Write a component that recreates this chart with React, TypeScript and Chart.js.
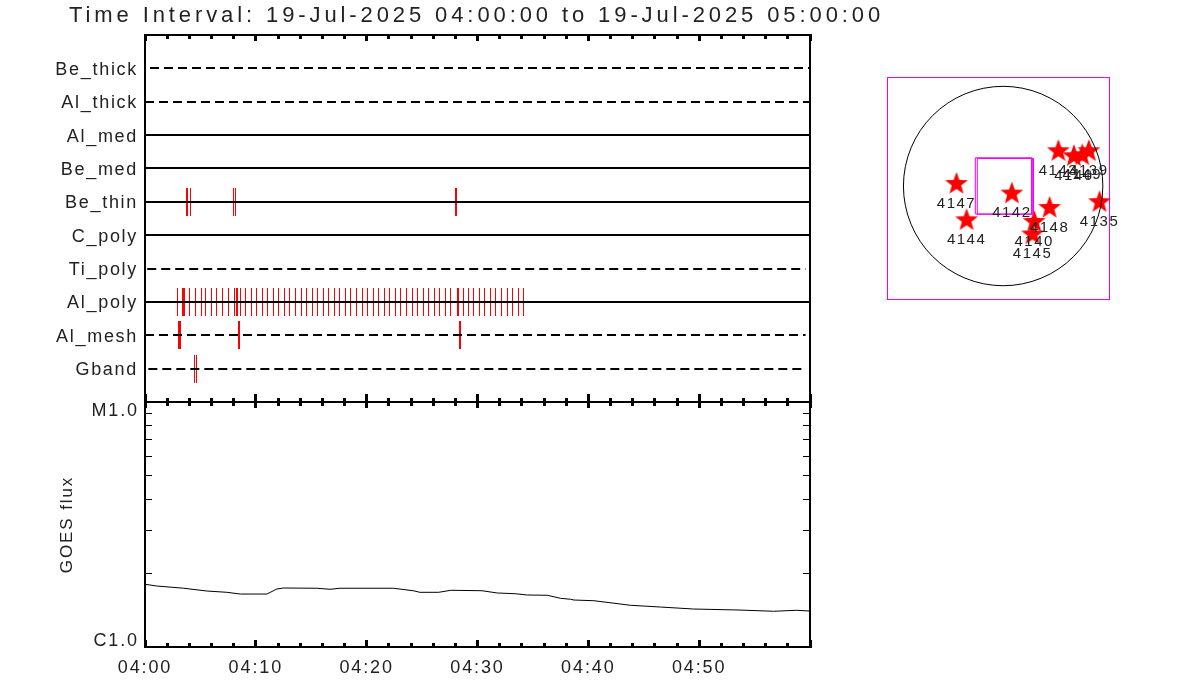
import React, { useEffect, useRef } from "react";
import { Chart, registerables } from "chart.js";

Chart.register(...registerables);

const FONT = '"Liberation Sans", sans-serif';
const INK = "#222";
const RED = "#ff0000";
const MAGENTA = "#f000f0";

const titleText = "Time Interval: 19-Jul-2025 04:00:00 to 19-Jul-2025 05:00:00";

// bottom to top
const channels = ["Gband", "Al_mesh", "Al_poly", "Ti_poly", "C_poly", "Be_thin", "Be_med", "Al_med", "Al_thick", "Be_thick"];
const dashedChannels = ["Gband", "Al_mesh", "Ti_poly", "Al_thick", "Be_thick"];
const dashStart = [0.3, 0, 0.2, 0, 0.45];
const dashEnd = [59.6, 59.6, 59.6, 60, 60];

// event times, minutes after 04:00
const beThinEvents = [3.74, 3.83, 4.11, 7.98, 8.17, 28.02, 28.11];
const alPolyEvents = [
  2.93, 3.38, 3.47, 3.56, 4.02, 4.56, 5.1, 5.46, 6.0, 6.45, 6.99, 7.53, 8.08, 8.26, 8.35, 8.62, 9.07, 9.61, 10.06,
  10.6, 11.05, 11.59, 12.05, 12.59, 13.04, 13.58, 14.12, 14.57, 15.11, 15.56, 16.11, 16.56, 17.1, 17.55, 18.09,
  18.54, 19.08, 19.62, 20.08, 20.62, 21.07, 21.61, 22.06, 22.6, 23.05, 23.59, 24.14, 24.59, 25.13, 25.58, 26.12,
  26.57, 27.11, 27.56, 28.2, 28.29, 28.74, 29.19, 29.64, 30.18, 30.63, 31.17, 31.62, 32.17, 32.71, 33.16, 33.7, 34.15,
];
const alMeshEvents = [3.02, 3.11, 3.2, 8.44, 8.53, 28.38, 28.47];
const gbandEvents = [4.47, 4.65];

// GOES flux
const goesMinutes = [
  0, 1.05, 3.5, 5.6, 7.4, 8.6, 11, 11.9, 12.5, 15.5, 16.7, 17.6, 22.4, 24.2, 24.8, 26.5, 27.6, 30.4, 31.8, 33.4, 34.5,
  36.3, 37.5, 38.4, 38.7, 40.5, 43.8, 46.5, 49.5, 53.5, 56.7, 58.8, 60,
];
const goesFlux = [
  1.803e-6, 1.774e-6, 1.737e-6, 1.692e-6, 1.672e-6, 1.645e-6, 1.645e-6, 1.725e-6, 1.741e-6, 1.737e-6, 1.72e-6,
  1.737e-6, 1.737e-6, 1.697e-6, 1.672e-6, 1.672e-6, 1.704e-6, 1.697e-6, 1.661e-6, 1.65e-6, 1.63e-6, 1.626e-6,
  1.58e-6, 1.566e-6, 1.555e-6, 1.545e-6, 1.48e-6, 1.456e-6, 1.429e-6, 1.416e-6, 1.399e-6, 1.412e-6, 1.402e-6,
];
const fluxTicks = [1e-6, 2e-6, 3e-6, 4e-6, 5e-6, 6e-6, 7e-6, 8e-6, 9e-6, 1e-5];
const timeLabels = ["04:00", "04:10", "04:20", "04:30", "04:40", "04:50", ""];

// Solar map, arcsec from disc centre
const regionNames = ["4147", "4142", "4144", "4148", "4140", "4145", "4135", "4143", "4146", "4149", "4139"];
const regionX = [-449, 84, -352, 447, 299, 283, 928, 532, 681, 762, 825];
const regionY = [30, -63, -320, -201, -336, -457, -146, 345, 297, 306, 345];
const fovAX = [-268, 276, 276, -268, -268];
const fovAY = [272, 272, -269, -269, 272];
const fovBX = [-249, 290, 290, -249, -249];
const fovBY = [265, 265, -272, -272, 265];

const zip = (xs: number[], ys: number[]) => xs.map((x, i) => ({ x, y: ys[i] }));
const at = (xs: number[], level: number) => xs.map((x) => ({ x, y: level }));

const spacing = (hook: string, value: string) => ({
  id: "spacing" + hook,
  [hook](chart: any) {
    chart.ctx.letterSpacing = value;
  },
});

const snapPlugin = {
  id: "snap",
  afterDatasetsUpdate(chart: any) {
    chart.data.datasets.forEach((ds: any, i: number) => {
      if (!ds.snap) return;
      chart.getDatasetMeta(i).data.forEach((el: any) => {
        el.y = Math.round(el.y);
        if (ds.snap === "mark") el.x = Math.floor(el.x) + 0.5;
      });
    });
  },
};

const noPadding = (s: any) => {
  s.paddingTop = 0;
  s.paddingBottom = 0;
  s.paddingLeft = 0;
  s.paddingRight = 0;
};
const fitHeight = (h: number) => (s: any) => {
  noPadding(s);
  s.height = h;
};
const fitWidth = (w: number) => (s: any) => {
  noPadding(s);
  s.width = w;
};

const xAxis = (position: string, step: number, len: number, width: number, weight: number, extra: any = {}) => ({
  type: "linear",
  position,
  weight,
  min: 0,
  max: 60,
  border: { display: false },
  grid: { drawOnChartArea: false, drawTicks: true, tickLength: len, tickWidth: width, tickColor: "#000" },
  ticks: { display: false, stepSize: step, autoSkip: false, maxRotation: 0 },
  afterFit: fitHeight(0),
  ...extra,
});
const solidBorder = { border: { display: true, color: "#000", width: 2 } };
const emptyGrid = { display: false, drawTicks: false };

const tickFont = { family: FONT, size: 18, lineHeight: "15px" };

function topConfig(): any {
  const lines = channels.map((name, level) => {
    const dashed = dashedChannels.indexOf(name);
    return {
      data: at(dashed >= 0 ? [dashStart[dashed], dashEnd[dashed]] : [0, 60], level + 1),
      showLine: true,
      borderColor: "#000",
      borderWidth: 2,
      borderDash: dashed >= 0 ? [9, 5] : [],
      pointRadius: 0,
      snap: "line",
      clip: false,
    };
  });
  const marks = [
    [beThinEvents, "Be_thin"],
    [alPolyEvents, "Al_poly"],
    [alMeshEvents, "Al_mesh"],
    [gbandEvents, "Gband"],
  ].map(([events, name]) => ({
    data: at(events as number[], channels.indexOf(name as string) + 1),
    showLine: false,
    pointStyle: "line",
    pointRotation: 90,
    pointRadius: 14,
    pointBorderWidth: 1,
    pointBorderColor: RED,
    pointBackgroundColor: RED,
    snap: "mark",
    clip: false,
  }));
  return {
    type: "scatter",
    data: { datasets: [...lines, ...marks] },
    plugins: [snapPlugin, spacing("beforeDraw", "3.9px"), spacing("afterDatasetsDraw", "1.7px")],
    options: {
      animation: false,
      responsive: false,
      events: [],
      layout: { autoPadding: false, padding: { left: 0, top: 4, right: 0, bottom: 1 } },
      plugins: {
        legend: { display: false },
        tooltip: { enabled: false },
        title: {
          display: true,
          text: titleText,
          align: "center",
          color: INK,
          font: { family: FONT, size: 22, weight: "normal", lineHeight: "24px" },
          padding: { top: 0, bottom: 7 },
        },
      },
      scales: {
        xMinorBottom: xAxis("bottom", 2, -4, 3, 0),
        x: xAxis("bottom", 10, -8, 3, 1, solidBorder),
        xMinorTop: xAxis("top", 2, -4, 3, 0),
        xTop: xAxis("top", 10, -6, 3, 1, solidBorder),
        y: {
          type: "linear",
          position: "left",
          min: 0,
          max: 11,
          ...solidBorder,
          grid: emptyGrid,
          ticks: {
            z: 1,
            stepSize: 1,
            autoSkip: false,
            padding: 7,
            labelOffset: 1.5,
            color: INK,
            font: { family: FONT, size: 18 },
            callback: (v: number) => channels[v - 1] ?? "",
          },
          afterFit: fitWidth(145),
        },
        yRight: {
          type: "linear",
          position: "right",
          min: 0,
          max: 11,
          ...solidBorder,
          grid: emptyGrid,
          ticks: { display: false },
          afterFit: fitWidth(143),
        },
      },
    },
  };
}

function bottomConfig(): any {
  const fluxAxis = (position: string, extra: any) => ({
    type: "logarithmic",
    position,
    min: 1e-6,
    max: 1e-5,
    ...solidBorder,
    grid: { drawOnChartArea: false, drawTicks: true, tickLength: -7, tickWidth: 1, tickColor: "#000" },
    afterBuildTicks: (s: any) => {
      s.ticks = fluxTicks.map((value) => ({ value }));
    },
    ...extra,
  });
  return {
    type: "scatter",
    data: {
      datasets: [
        {
          data: zip(goesMinutes, goesFlux),
          showLine: true,
          borderColor: "#000",
          borderWidth: 1,
          pointRadius: 0,
        },
      ],
    },
    plugins: [spacing("beforeDraw", "1.9px")],
    options: {
      animation: false,
      responsive: false,
      events: [],
      layout: { autoPadding: false, padding: { left: 55, top: 2, right: 50, bottom: 0 } },
      plugins: { legend: { display: false }, tooltip: { enabled: false } },
      scales: {
        xMinorBottom: xAxis("bottom", 2, -4, 3, 0),
        x: xAxis("bottom", 10, -7, 3, 1, {
          ...solidBorder,
          ticks: {
            display: true,
            stepSize: 10,
            autoSkip: false,
            maxRotation: 0,
            padding: 17,
            color: INK,
            font: { family: FONT, size: 18 },
            callback: (v: number) => timeLabels[v / 10] ?? "",
          },
          afterFit: fitHeight(53),
        }),
        xMinorTop: xAxis("top", 2, -4, 3, 0),
        xTop: xAxis("top", 10, -6, 3, 1, solidBorder),
        y: fluxAxis("left", {
          title: {
            display: true,
            text: "GOES flux",
            color: INK,
            font: { family: FONT, size: 17, lineHeight: "20px" },
            padding: { top: 2, bottom: 0 },
          },
          ticks: {
            autoSkip: false,
            padding: 13,
            labelOffset: 2,
            color: INK,
            font: tickFont,
            callback: (v: number) => (v === 1e-5 ? ["", "M1.0"] : v === 1e-6 ? ["C1.0", ""] : ""),
          },
          afterFit: fitWidth(90),
        }),
        yRight: fluxAxis("right", {
          ticks: { display: false },
          afterFit: fitWidth(0),
        }),
      },
    },
  };
}

function makeStar(): HTMLCanvasElement {
  const c = document.createElement("canvas");
  c.width = 24;
  c.height = 24;
  const g = c.getContext("2d")!;
  g.fillStyle = RED;
  g.beginPath();
  for (let i = 0; i < 10; i++) {
    const r = i % 2 === 0 ? 12 : 5;
    const a = -Math.PI / 2 + (i * Math.PI) / 5;
    const px = 12 + r * Math.cos(a);
    const py = 13 + r * Math.sin(a);
    if (i === 0) g.moveTo(px, py);
    else g.lineTo(px, py);
  }
  g.closePath();
  g.fill();
  return c;
}

const frameAxis = (position: string, min: number, max: number, fit: any) => ({
  type: "linear",
  position,
  min,
  max,
  border: { display: true, color: MAGENTA, width: 1 },
  grid: emptyGrid,
  ticks: { display: false },
  afterFit: fit,
});

function mapConfig(): any {
  const fov = (xs: number[], ys: number[]) => ({
    data: zip(xs, ys),
    showLine: true,
    borderColor: MAGENTA,
    borderWidth: 1,
    pointRadius: 0,
  });
  const labelPlugin = {
    id: "regionLabels",
    afterDatasetsDraw(chart: any) {
      const { ctx, scales } = chart;
      ctx.save();
      ctx.font = `15px ${FONT}`;
      ctx.letterSpacing = "1.5px";
      ctx.fillStyle = INK;
      ctx.textAlign = "center";
      ctx.textBaseline = "middle";
      regionNames.forEach((name, i) => {
        ctx.fillText(name, scales.x.getPixelForValue(regionX[i]), scales.y.getPixelForValue(regionY[i]) + 20.5);
      });
      ctx.restore();
    },
  };
  return {
    type: "scatter",
    data: {
      datasets: [
        {
          data: [{ x: 0, y: 0 }],
          pointStyle: "circle",
          pointRadius: 99.7,
          pointBorderColor: "#000",
          pointBorderWidth: 1,
          pointBackgroundColor: "rgba(0,0,0,0)",
          clip: false,
        },
        fov(fovAX, fovAY),
        fov(fovBX, fovBY),
        {
          data: zip(regionX, regionY),
          pointStyle: makeStar(),
          pointRadius: 11,
          clip: false,
        },
      ],
    },
    plugins: [labelPlugin],
    options: {
      animation: false,
      responsive: false,
      events: [],
      layout: { autoPadding: false, padding: { left: 18, top: 18, right: 20, bottom: 20 } },
      plugins: { legend: { display: false }, tooltip: { enabled: false } },
      scales: {
        x: frameAxis("bottom", -1118, 1019, fitHeight(0)),
        xTop: frameAxis("top", -1118, 1019, fitHeight(0)),
        y: frameAxis("left", -1088, 1050, fitWidth(0)),
        yRight: frameAxis("right", -1088, 1050, fitWidth(0)),
      },
    },
  };
}

const place = (left: number, top: number): React.CSSProperties => ({ position: "absolute", left, top });

export default function App() {
  const topRef = useRef<HTMLCanvasElement>(null);
  const bottomRef = useRef<HTMLCanvasElement>(null);
  const mapRef = useRef<HTMLCanvasElement>(null);

  useEffect(() => {
    const charts = [
      new Chart(topRef.current!, topConfig()),
      new Chart(bottomRef.current!, bottomConfig()),
      new Chart(mapRef.current!, mapConfig()),
    ];
    return () => charts.forEach((c) => c.destroy());
  }, []);

  return (
    <div style={{ position: "fixed", left: 0, top: 0, width: 1200, height: 700, background: "#fff", overflow: "hidden" }}>
      <canvas ref={topRef} width={953} height={403} style={place(0, 0)} />
      <canvas ref={bottomRef} width={860} height={300} style={place(0, 400)} />
      <canvas ref={mapRef} width={260} height={260} style={place(869, 59)} />
    </div>
  );
}
